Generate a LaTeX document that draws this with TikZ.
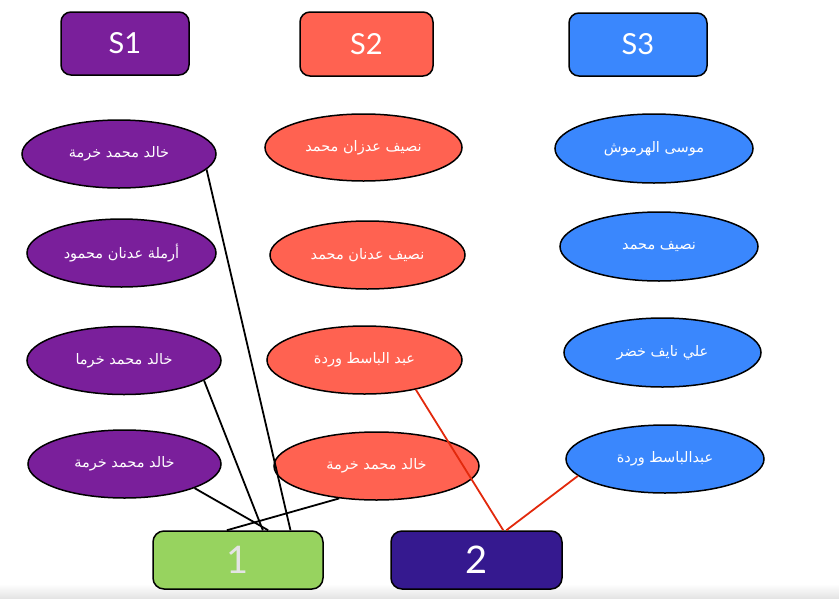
\documentclass[tikz,border=0pt]{standalone}
\usepackage{fontspec}
\setmainfont{Lato}
\newfontfamily\arabicfont[Script=Arabic]{DejaVu Sans}
\TeXXeTstate=1
\usetikzlibrary{shapes.geometric,calc}
\definecolor{cpurple}{HTML}{7A1F9B}
\definecolor{ctomato}{HTML}{FF6251}
\definecolor{cblue}{HTML}{3A87FD}
\definecolor{cgreen}{HTML}{97D35F}
\definecolor{cindigo}{HTML}{35198F}
\definecolor{cred}{HTML}{E2290C}
\definecolor{clight}{HTML}{E4E4E4}
\begin{document}
\begin{tikzpicture}[x=1pt,y=-1pt,
  hdr/.style={draw=black,line width=1.5pt,rounded corners=10pt,inner sep=0pt,text=white,font=\fontsize{29}{29}\selectfont},
  numbox/.style={draw=black,line width=1.5pt,rounded corners=11pt,inner sep=0pt,minimum height=58pt,font=\fontsize{38}{38}\selectfont},
  pers/.style={ellipse,draw=black,line width=1.5pt,inner sep=0pt,minimum height=68pt,text=white,font=\arabicfont\fontsize{14.5}{15}\selectfont},
  blk/.style={draw=black,line width=1.8pt},
  rdl/.style={draw=cred,line width=1.8pt}]
\useasboundingbox (0,0) rectangle (839,598);
\shade[top color=white,bottom color=clight] (0,584) rectangle (839,598);
% headers
\node[hdr,fill=cpurple,minimum width=128pt,minimum height=63pt] (S1) at (125,43.5) {S1};
\node[hdr,fill=ctomato,minimum width=133pt,minimum height=64pt] (S2) at (366.5,44) {S2};
\node[hdr,fill=cblue,minimum width=138pt,minimum height=63pt] (S3) at (638,44.5) {S3};
% column 1
\node[pers,fill=cpurple,minimum width=194pt] (P1) at (119,154) {\beginR خالد محمد خرمة\endR};
\node[pers,fill=cpurple,minimum width=189pt] (P2) at (121.5,253) {\beginR أرملة عدنان محمود\endR};
\node[pers,fill=cpurple,minimum width=194pt] (P3) at (124,360.5) {\beginR خالد محمد خرما\endR};
\node[pers,fill=cpurple,minimum width=193pt] (P4) at (124.5,464) {\beginR خالد محمد خرمة\endR};
% column 2
\node[pers,fill=ctomato,minimum width=197pt,minimum height=67pt] (R1) at (363.5,147.5) {\beginR نصيف عدزان محمد\endR};
\node[pers,fill=ctomato,minimum width=195pt] (R2) at (367.5,255) {\beginR نصيف عدنان محمد\endR};
\node[pers,fill=ctomato,minimum width=195pt] (R3) at (364.5,360) {\beginR عبد الباسط وردة\endR};
\node[pers,fill=ctomato,minimum width=205pt] (R4) at (376.5,466) {\beginR خالد محمد خرمة\endR};
% column 3
\node[pers,fill=cblue,minimum width=198pt,minimum height=69pt] (B1) at (654,148.5) {\beginR موسى الهرموش\endR};
\node[pers,fill=cblue,minimum width=198pt,minimum height=69pt] (B2) at (659,246.5) {\beginR نصيف محمد\endR};
\node[pers,fill=cblue,minimum width=197pt,minimum height=69pt] (B3) at (662.5,352.5) {\beginR علي نايف خضر\endR};
\node[pers,fill=cblue,minimum width=198pt] (B4) at (665,459) {\beginR عبدالباسط وردة\endR};
% bottom boxes
\node[numbox,fill=cgreen,minimum width=170pt,text=clight] (one) at (238,560) {1};
\node[numbox,fill=cindigo,minimum width=171pt,text=white] (two) at (476.5,560) {2};
% connectors
\draw[blk] (P1.-10) -- ($(one.north west)!0.806!(one.north east)$);
\draw[blk] (P3.-14) -- ($(one.north west)!0.645!(one.north east)$);
\draw[blk] (P4.-19) -- ($(one.north west)!0.676!(one.north east)$);
\draw[blk] (R4.-139) -- ($(one.north west)!0.435!(one.north east)$);
\draw[rdl] (R3.-30) -- ($(two.north west)!0.655!(two.north east)$);
\draw[rdl] (B4.191) -- ($(two.north west)!0.673!(two.north east)$);
\end{tikzpicture}
\end{document}
